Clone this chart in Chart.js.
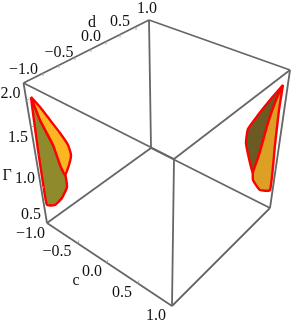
<!DOCTYPE html>
<html>
<head>
<meta charset="utf-8">
<style>
html, body { margin: 0; padding: 0; background: #fff; }
#wrap { width: 291px; height: 325px; }
</style>
<script src="https://cdn.jsdelivr.net/npm/chart.js@4"></script>
</head>
<body>
<div id="wrap"><canvas id="chart" width="291" height="325"></canvas></div>
<script>
// box corners as they land in the picture
let topLeft = { x: 23.5, y: 83 }
let topBack = { x: 149, y: 20 }
let topRight = { x: 290, y: 70 }
let topFront = { x: 174, y: 159 }
let bottomLeft = { x: 47, y: 223 }
let bottomBack = { x: 151, y: 148 }
let bottomRight = { x: 270, y: 208 }
let bottomFront = { x: 172, y: 306 }

let boxEdges = [
  [topLeft, topBack],
  [topBack, topRight],
  [topRight, topFront],
  [topFront, topLeft],
  [bottomLeft, bottomBack],
  [bottomBack, bottomRight],
  [bottomRight, bottomFront],
  [bottomFront, bottomLeft],
  [topLeft, bottomLeft],
  [topBack, bottomBack],
  [topRight, bottomRight],
  [topFront, bottomFront],
]

// left blob
let leftOrange = [
  [31, 97], [40, 107], [50, 120], [60, 133], [68, 145], [71, 155], [69, 165], [65, 175],
  [60, 165], [53, 145], [40, 120],
]
let leftOlive = [
  [31, 97], [40, 120], [53, 145], [60, 160], [65, 173], [67, 187], [62, 198], [55, 205],
  [47, 205], [43, 183], [38, 150], [33, 113],
]
let leftDark = [
  [65, 180], [66, 187], [62, 197], [55, 204], [50, 204], [58, 192],
]

// right blob
let rightOrange = [
  [283, 85], [279, 110], [275, 145], [270, 190], [260, 190], [253, 180], [253, 172],
  [259, 155], [268, 123], [276, 100],
]
let rightDark = [
  [283, 85], [270, 100], [258, 115], [248, 129], [246, 143], [250, 163], [253, 173],
  [259, 155], [268, 123], [276, 100],
]
let rightBright = [
  [255, 176], [269, 189], [269, 191], [261, 190], [254, 181],
]

// ticks as pairs of points on the picture
let dTicks = [[43, 73], [59, 65], [75, 57], [91, 49], [106, 41.5], [120, 34.5], [136, 27]]
let gammaTicks = [[26.5, 100], [31, 127], [35.5, 156], [41, 188]]
let cTicks = [[78, 243.5], [107, 263], [138, 283.5]]

let dLabels = ["\u22121.0", "\u22120.5", "0.0", "0.5", "1.0"]
let dLabelSpots = [[23.5, 70], [59, 53], [91, 37], [120, 22], [147, 9]]
let gammaLabels = ["2.0", "1.5", "1.0", "0.5"]
let gammaLabelSpots = [[10.5, 94], [18, 138], [25, 179], [31, 215]]
let cLabels = ["\u22121.0", "\u22120.5", "0.0", "0.5", "1.0"]
let cLabelSpots = [[30.5, 234], [57, 252], [92, 272], [122, 293], [156, 316]]
let axisTitles = ["d", "\u0393", "c"]
let axisTitleSpots = [[92, 23], [7, 176], [76, 281]]

let toPoints = list => list.map(p => ({ x: p[0], y: p[1] }))

let edgeColor = "#666666"
let datasets = []

function addEdge(a, b) {
  datasets.push({
    data: [a, b],
    borderColor: edgeColor,
    borderWidth: 1.8,
    fill: false,
    pointRadius: 0,
  })
}

function addShape(list, fillColor, line, width) {
  let pts = toPoints(list)
  pts.push(pts[0])
  datasets.push({
    data: pts,
    fill: "shape",
    backgroundColor: fillColor,
    borderColor: line,
    borderWidth: width,
    borderJoinStyle: "round",
    tension: 0.15,
    pointRadius: 0,
  })
}

boxEdges.forEach(e => addEdge(e[0], e[1]))

addShape(leftOrange, "#fbb622", "#ff0000", 2.4)
addShape(leftOlive, "#8f8a2c", "#ff0000", 2.4)
addShape(leftDark, "#75792a", "rgba(200,100,30,0.7)", 1)
addShape(rightOrange, "#dda024", "#ff0000", 2.4)
addShape(rightDark, "#6b5a24", "#ff0000", 2.4)
addShape(rightBright, "#ffb418", "#ff5000", 1)

let tickMarks = {
  id: "tickMarks",
  afterDatasetsDraw(c) {
    let ctx = c.ctx
    let sx = c.scales.x
    let sy = c.scales.y
    ctx.save()
    ctx.strokeStyle = "#a8a8a8"
    ctx.lineWidth = 1
    let mark = (list, dx, dy) => list.forEach(t => {
      ctx.beginPath()
      ctx.moveTo(sx.getPixelForValue(t[0]), sy.getPixelForValue(t[1]))
      ctx.lineTo(sx.getPixelForValue(t[0] + dx), sy.getPixelForValue(t[1] + dy))
      ctx.stroke()
    })
    mark(dTicks, 0, 3)
    mark(gammaTicks, 3, -1)
    mark(cTicks, 1, -3)
    ctx.restore()
  },
}

let boxLabels = {
  id: "boxLabels",
  afterDraw(c) {
    let ctx = c.ctx
    let sx = c.scales.x
    let sy = c.scales.y
    ctx.save()
    ctx.fillStyle = "#111"
    ctx.textAlign = "center"
    ctx.textBaseline = "middle"
    ctx.font = "16px 'Liberation Serif'"
    let write = (texts, spots) => texts.forEach((t, i) => {
      ctx.fillText(t, sx.getPixelForValue(spots[i][0]), sy.getPixelForValue(spots[i][1]))
    })
    write(dLabels, dLabelSpots)
    write(gammaLabels, gammaLabelSpots)
    write(cLabels, cLabelSpots)
    write(axisTitles, axisTitleSpots)
    ctx.restore()
  },
}

new Chart(document.getElementById("chart").getContext("2d"), {
  type: "line",
  data: { datasets: datasets },
  plugins: [tickMarks, boxLabels],
  options: {
    responsive: false,
    animation: false,
    clip: false,
    layout: { padding: 0 },
    plugins: { legend: { display: false }, tooltip: { enabled: false } },
    scales: {
      x: { type: "linear", min: 0, max: 291, display: false },
      y: { type: "linear", min: 0, max: 325, reverse: true, display: false },
    },
  },
})
</script>
</body>
</html>
